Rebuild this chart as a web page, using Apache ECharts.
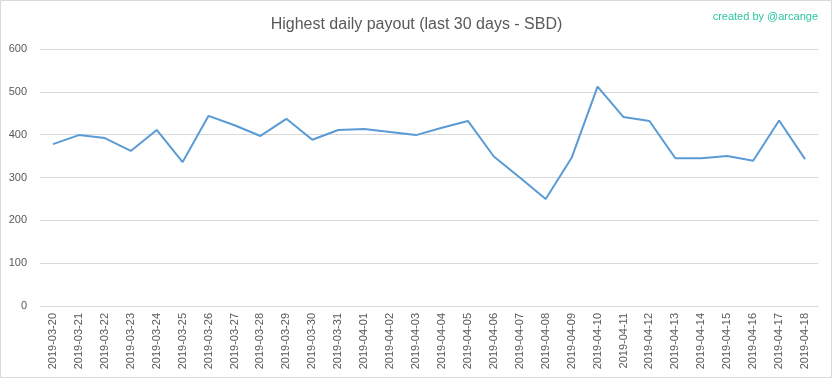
<!DOCTYPE html>
<html>
<head>
<meta charset="utf-8">
<script src="https://cdn.jsdelivr.net/npm/echarts@6/dist/echarts.min.js"></script>
<style>
html,body{margin:0;padding:0;background:#fff;}
#chart{width:833px;height:379px;}
</style>
</head>
<body>
<div id="chart"></div>
<script>
const titleText = "Highest daily payout (last 30 days - SBD)";
const creditText = "created by @arcange";
const dates = [
  "2019-03-20","2019-03-21","2019-03-22","2019-03-23","2019-03-24","2019-03-25",
  "2019-03-26","2019-03-27","2019-03-28","2019-03-29","2019-03-30","2019-03-31",
  "2019-04-01","2019-04-02","2019-04-03","2019-04-04","2019-04-05","2019-04-06",
  "2019-04-07","2019-04-08","2019-04-09","2019-04-10","2019-04-11","2019-04-12",
  "2019-04-13","2019-04-14","2019-04-15","2019-04-16","2019-04-17","2019-04-18"
];
const payouts = [
  378, 399, 392, 362, 411, 336,
  444, 422, 397, 437, 388, 411,
  413, 406, 399, 416, 432, 349,
  300, 250, 346, 512, 441, 432,
  345, 345, 350, 339, 433, 343
];
const yTicks = { min: 0, max: 600, interval: 100 };

const chart = echarts.init(document.getElementById('chart'), null, {renderer: 'canvas'});
const font = "'Liberation Sans', Arial, sans-serif";
chart.setOption({
  animation: false,
  backgroundColor: '#ffffff',
  graphic: [{
    type: 'rect',
    shape: { x: 0.5, y: 0.5, width: 831, height: 377 },
    style: { fill: 'none', stroke: '#d9d9d9', lineWidth: 1 },
    silent: true
  }],
  title: [{
    text: titleText,
    left: 'center',
    top: 12,
    textStyle: { fontFamily: font, fontSize: 16, fontWeight: 'normal', color: '#595959' }
  }, {
    text: creditText,
    right: 10,
    top: 6,
    textStyle: { fontFamily: font, fontSize: 11, fontWeight: 'normal', color: '#2bc8a0' }
  }],
  grid: { left: 40, right: 15, top: 49, bottom: 73, containLabel: false },
  xAxis: {
    type: 'category',
    data: dates,
    boundaryGap: true,
    axisLine: { show: true, lineStyle: { color: '#d9d9d9', width: 1 } },
    axisTick: { show: false },
    axisLabel: {
      rotate: 90,
      interval: 0,
      margin: 7,
      fontFamily: font,
      fontSize: 11,
      color: '#595959'
    },
    splitLine: { show: false }
  },
  yAxis: {
    type: 'value',
    min: yTicks.min,
    max: yTicks.max,
    interval: yTicks.interval,
    axisLine: { show: false },
    axisTick: { show: false },
    axisLabel: { margin: 13, fontFamily: font, fontSize: 11, color: '#595959' },
    splitLine: { show: true, lineStyle: { color: '#d9d9d9', width: 1 } }
  },
  series: [{
    type: 'line',
    data: payouts,
    symbol: 'none',
    smooth: false,
    lineStyle: { color: '#5b9bd5', width: 2 },
    itemStyle: { color: '#5b9bd5' }
  }]
});
</script>
</body>
</html>
